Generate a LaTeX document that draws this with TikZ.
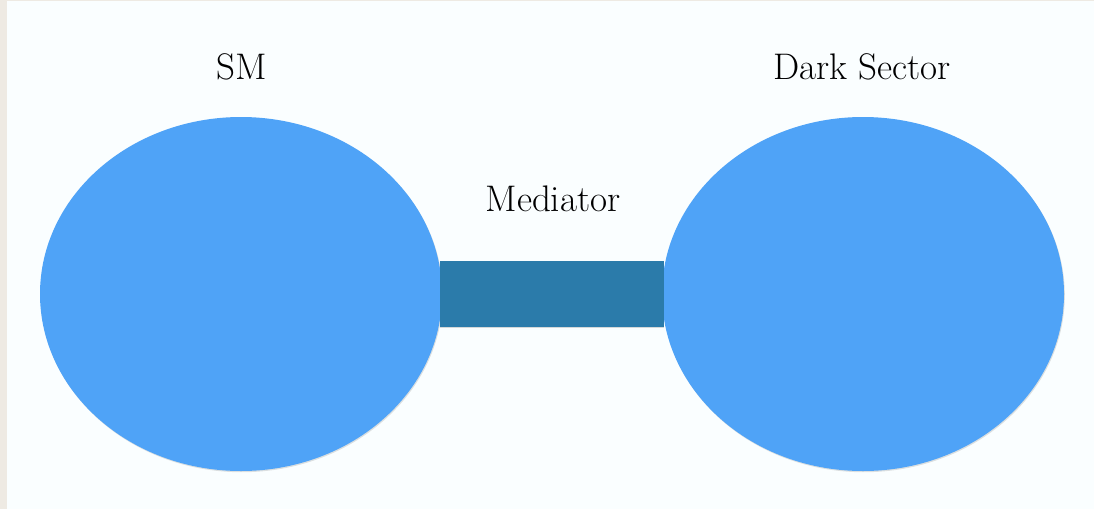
\documentclass[tikz,border=0pt]{standalone}
\usetikzlibrary{shadows,shapes.geometric}
\definecolor{bgpage}{HTML}{EEEAE3}
\definecolor{bgslide}{HTML}{FAFEFF}
\definecolor{blobblue}{HTML}{4FA3F7}
\definecolor{barblue}{HTML}{2B7BAA}
\tikzset{
  blob/.style={ellipse, fill=blobblue, minimum width=402pt, minimum height=354pt, inner sep=0pt,
    drop shadow={shadow xshift=0.8pt, shadow yshift=-1.2pt, fill=black, opacity=0.12}},
  bar/.style={rectangle, fill=barblue, minimum width=224pt, minimum height=66pt, inner sep=0pt,
    drop shadow={shadow xshift=0pt, shadow yshift=-1.2pt, fill=black, opacity=0.15}},
  lbl/.style={font=\fontsize{37}{42}\selectfont, text=black, inner sep=0pt}
}
\begin{document}
\begin{tikzpicture}[x=1pt,y=-1pt]
  \fill[bgpage] (0,0) rectangle (1094,509);
  \fill[bgslide] (7,1) rectangle (1094,509);
  \useasboundingbox (0,0) rectangle (1094,509);
  \node[blob] (sm) at (241,294) {};
  \node[blob] (ds) at (863,294) {};
  \node[bar] (med) at (552,294) {};
  \node[lbl] (smlbl) at (242,67) {SM};
  \node[lbl] (dslbl) at (862,67) {Dark Sector};
  \node[lbl] (medlbl) at (553,199) {Mediator};
\end{tikzpicture}
\end{document}
